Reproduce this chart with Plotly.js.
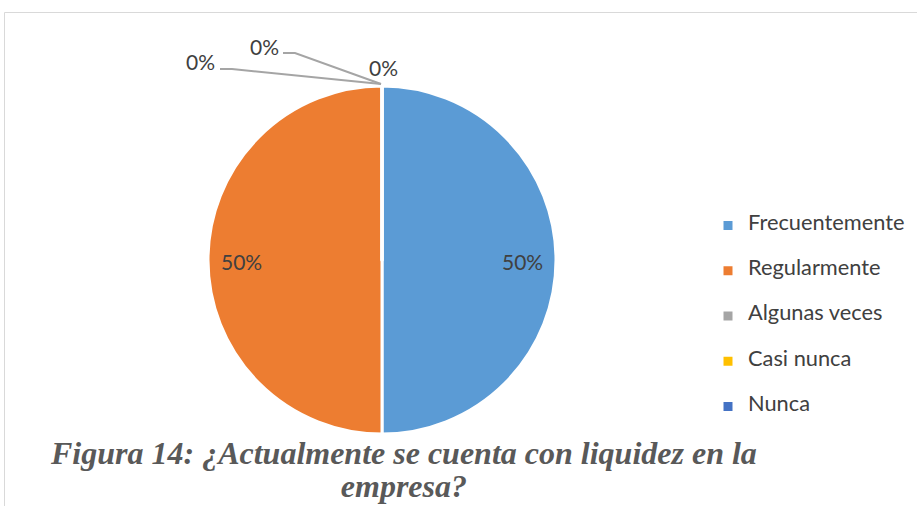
<!DOCTYPE html>
<html>
<head>
<meta charset="utf-8">
<script src="https://cdn.plot.ly/plotly-3.0.1.min.js"></script>
<style>html,body{margin:0;padding:0;background:#fff;}#chart{width:917px;height:506px;}</style>
</head>
<body>
<div id="chart"></div>
<script>
// ---- data ----
const categories = ["Frecuentemente", "Regularmente", "Algunas veces", "Casi nunca", "Nunca"];
const values = [50, 50, 0, 0, 0];
const colors = ["#5B9BD5", "#ED7D31", "#A5A5A5", "#FFC000", "#4472C4"];
const captionLine1 = "Figura 14: ¿Actualmente se cuenta con liquidez en la";
const captionLine2 = "empresa?";

// ---- layout helpers ----
const W = 917, H = 506;
const px = x => x / W;
const py = y => 1 - y / H;
const cx = 382, cy = 260, R = 174;   // pie centre / radius in pixels
const total = values.reduce((a, b) => a + b, 0);
const pctText = values.map(v => Math.round(v / total * 100) + "%");

const legendLabels = categories.map(c => ' <br><span style="font-size:21.8px">' + c + '</span><br> ');

const trace = {
  type: "pie",
  labels: legendLabels,
  values: values,
  sort: false,
  direction: "clockwise",
  rotation: 0,
  marker: { colors: colors, line: { color: "#ffffff", width: 3 } },
  textinfo: "none",
  domain: { x: [px(cx - R), px(cx + R)], y: [py(cy + R), py(cy - R)] },
  hoverinfo: "none"
};

const annotations = [];
const shapes = [];
const labelFont = { family: "Lato, sans-serif", size: 21, color: "#404040" };

// data labels of non-zero slices, placed at the slice's mid-angle (clockwise from 12 o'clock)
let cum = 0;
values.forEach((v, i) => {
  const a0 = cum / total * 2 * Math.PI;
  cum += v;
  if (v <= 0) return;
  const am = a0 + (v / total) * Math.PI;
  const rr = 0.805 * R;
  const lx = cx + rr * Math.sin(am);
  const ly = cy - rr * Math.cos(am) + 1;
  annotations.push({
    x: px(lx), y: py(ly), xref: "paper", yref: "paper",
    text: pctText[i], showarrow: false, font: labelFont,
    xanchor: "center", yanchor: "middle"
  });
});

// zero-value labels with leader lines (Excel-style callouts)
const zeroIdx = values.map((v, i) => v === 0 ? i : -1).filter(i => i >= 0);
const calloutPos = [ [200, 62], [264, 46], [383, 67] ];
const leaderPaths = [
  [[220, 69], [232, 69], [381, 84]],
  [[283, 53], [295, 53], [381, 84]],
  null
];
zeroIdx.forEach((idx, k) => {
  const p = calloutPos[k];
  annotations.push({
    x: px(p[0]), y: py(p[1]), xref: "paper", yref: "paper",
    text: pctText[idx], showarrow: false, font: labelFont,
    xanchor: "center", yanchor: "middle"
  });
  const lp = leaderPaths[k];
  if (lp) {
    shapes.push({
      type: "path", xref: "paper", yref: "paper",
      path: "M " + lp.map(q => px(q[0]) + "," + py(q[1])).join(" L "),
      line: { color: "#A5A5A5", width: 2 }
    });
  }
});

// chart-area frame
shapes.push({
  type: "rect", xref: "paper", yref: "paper",
  x0: px(4.5), x1: px(930), y0: py(530), y1: py(12.5),
  line: { color: "#D9D9D9", width: 1 }, fillcolor: "rgba(0,0,0,0)", layer: "below"
});

// caption (one text block; outer size sets the 33px line pitch, inner span sets glyph size)
const capSpan = s => '<span style="font-size:32px">' + s + '</span>';
annotations.push({
  x: px(403), y: py(506), xref: "paper", yref: "paper",
  text: "<b><i>" + capSpan(captionLine1) + "<br>" + capSpan(captionLine2) + "</i></b>",
  showarrow: false, xanchor: "center", yanchor: "bottom", align: "center",
  font: { family: "Liberation Serif, Times New Roman, serif", size: 25.4, color: "#595959" }
});

const layout = {
  width: W, height: H,
  margin: { l: 0, r: 0, t: 0, b: 0 },
  paper_bgcolor: "#ffffff",
  plot_bgcolor: "#ffffff",
  showlegend: true,
  legend: {
    x: px(708), y: py(198), xanchor: "left", yanchor: "top",
    font: { family: "Lato, sans-serif", size: 10.83, color: "#404040" },
    bgcolor: "rgba(0,0,0,0)"
  },
  annotations: annotations,
  shapes: shapes
};

Plotly.newPlot("chart", [trace], layout, { staticPlot: true, displayModeBar: false });
</script>
</body>
</html>
